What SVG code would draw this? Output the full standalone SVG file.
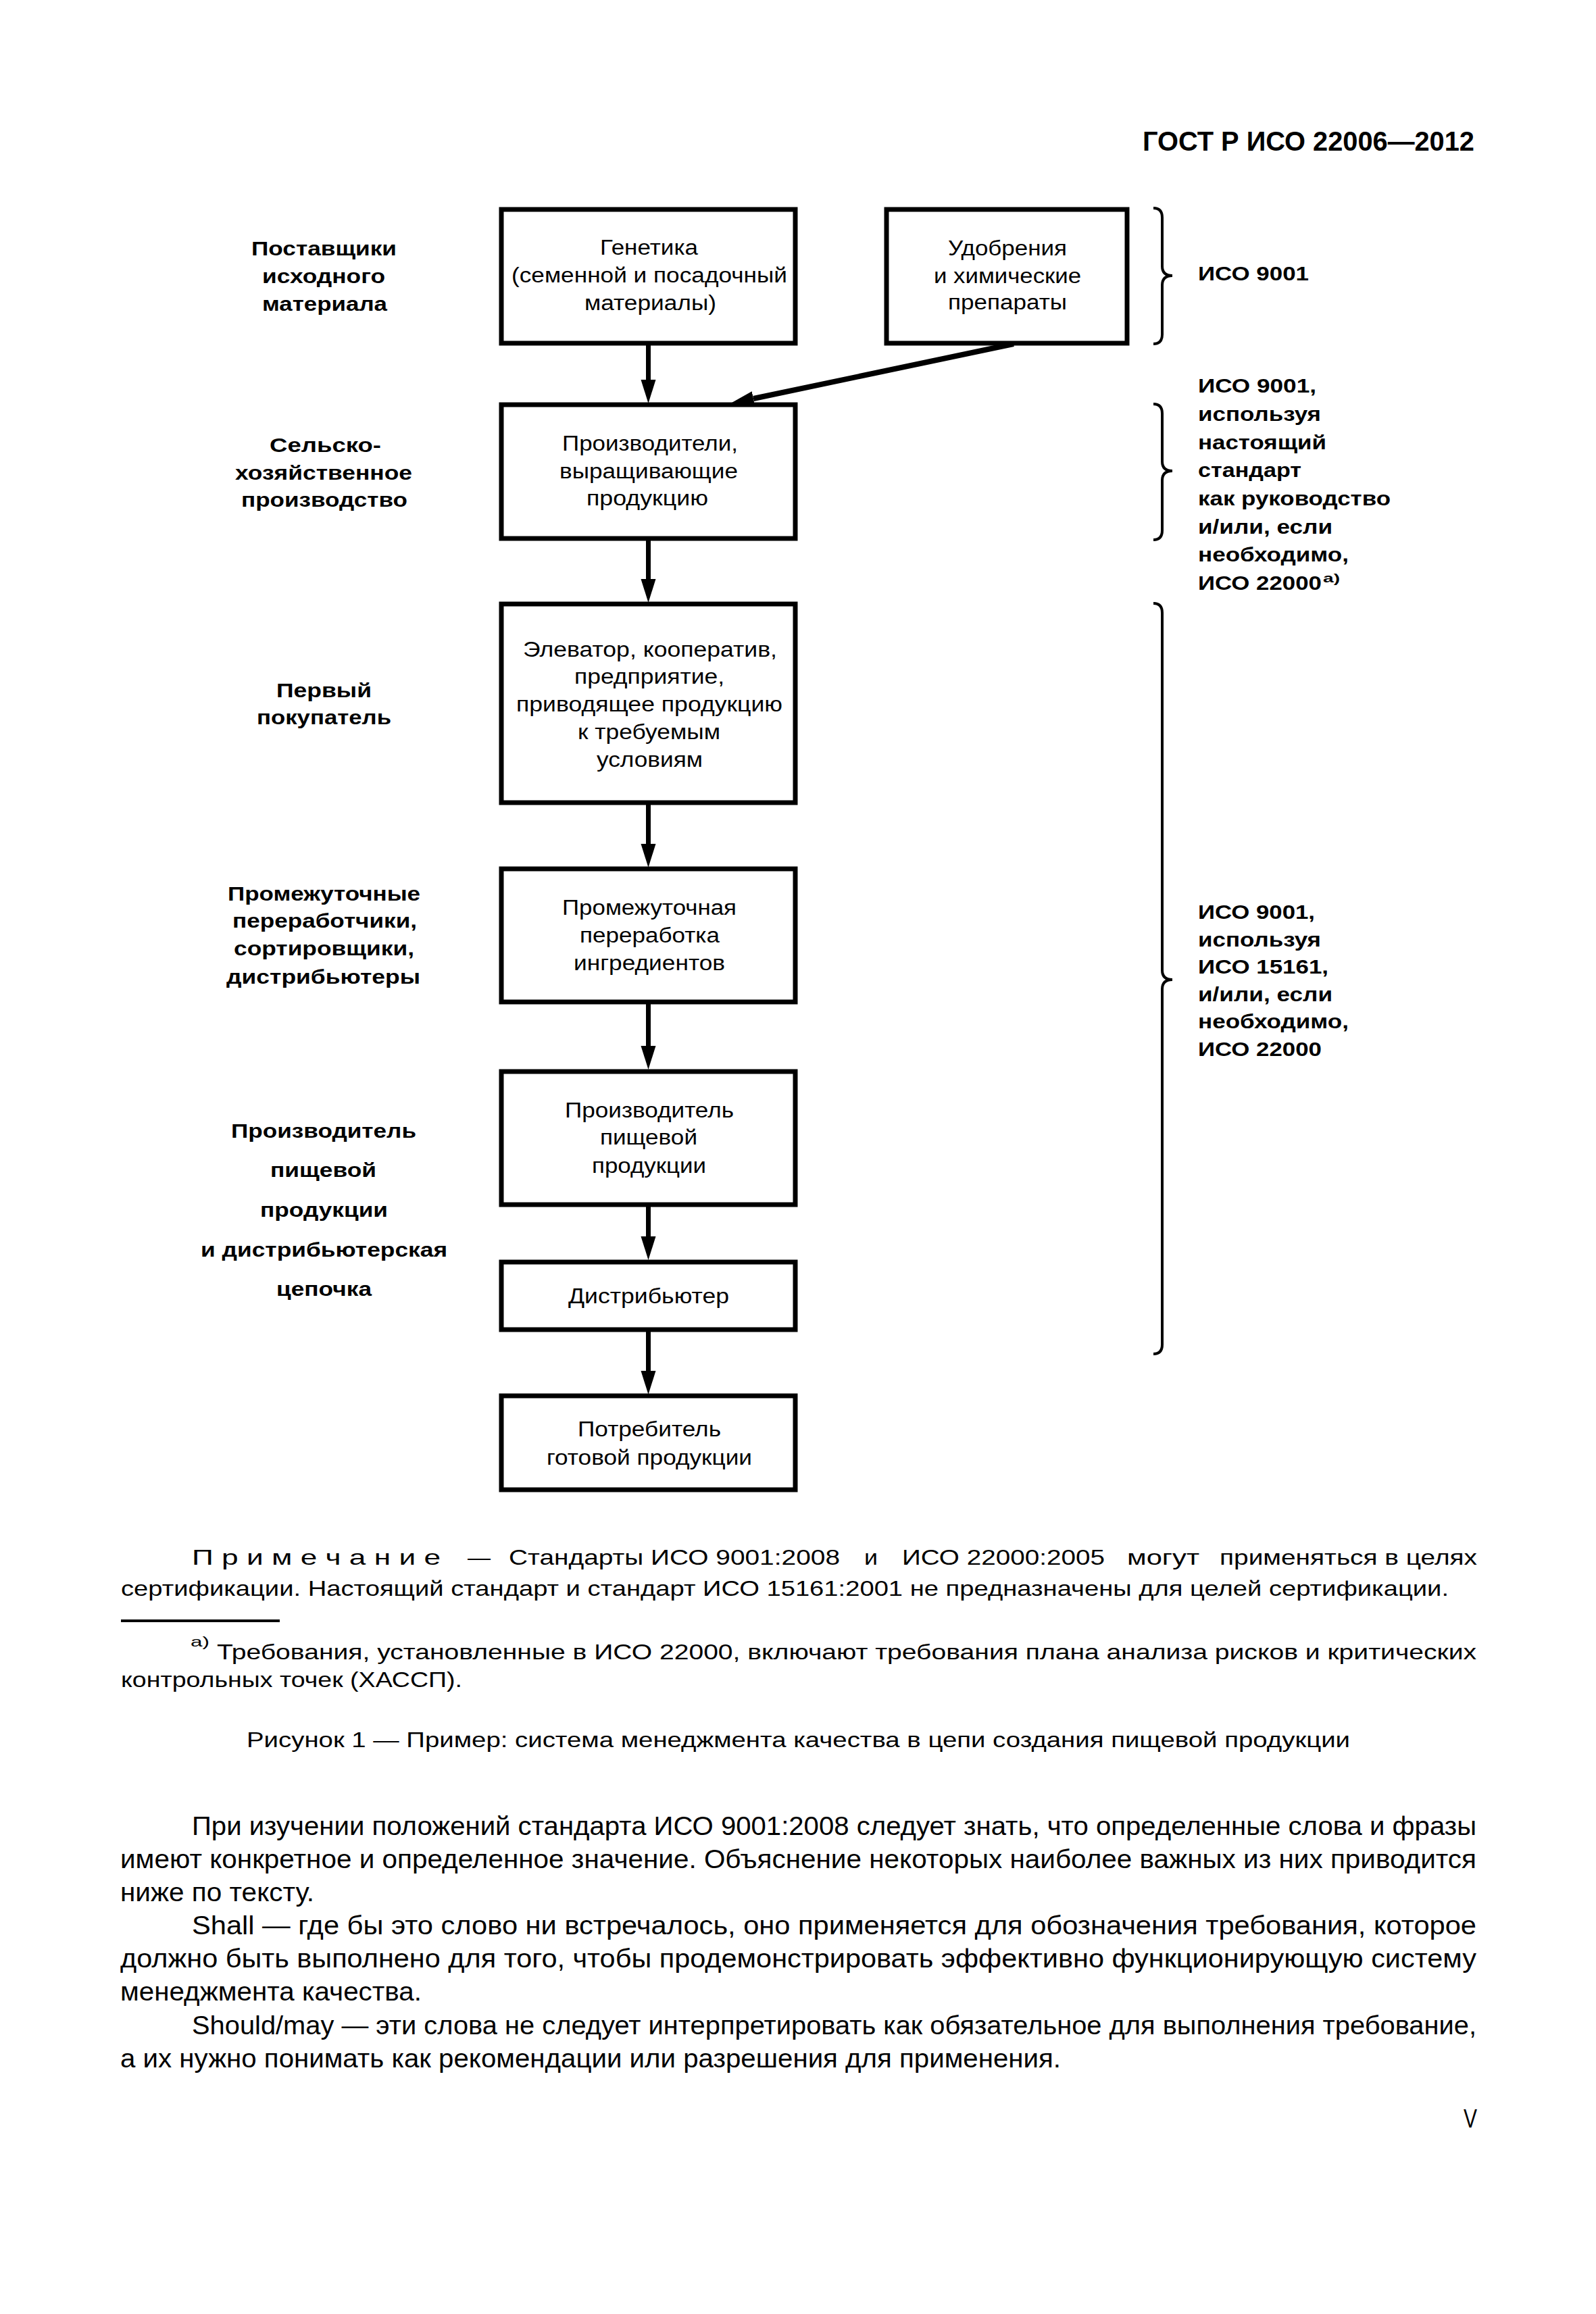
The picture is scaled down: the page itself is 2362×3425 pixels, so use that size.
<svg xmlns="http://www.w3.org/2000/svg" width="2362" height="3425" viewBox="0 0 2362 3425">
<style>
.box{fill:#fff;stroke:#000;stroke-width:7}
.bt{font-family:"Liberation Sans",Arial,sans-serif;font-size:31px;fill:#000}
.lb{font-family:"Liberation Sans",Arial,sans-serif;font-size:29px;font-weight:bold;fill:#000}
.sup{font-family:"Liberation Sans",Arial,sans-serif;font-size:19px;font-weight:bold;fill:#000}
.nt{font-family:"Liberation Sans",Arial,sans-serif;font-size:32px;fill:#000}
.ns{font-family:"Liberation Sans",Arial,sans-serif;font-size:21px;fill:#000}
.bd{font-family:"Liberation Sans",Arial,sans-serif;font-size:38px;fill:#000}
.hd{font-family:"Liberation Sans",Arial,sans-serif;font-size:41px;font-weight:bold;fill:#000}
.ar{fill:none;stroke:#000;stroke-width:7}
.br{fill:none;stroke:#000;stroke-width:4}
</style>
<defs>
<marker id="ah" markerUnits="userSpaceOnUse" markerWidth="36" markerHeight="24" refX="0" refY="11" orient="auto" viewBox="0 0 36 22">
<path d="M0,0 L35,11 L0,22 z" fill="#000"/>
</marker>
</defs>
<rect width="2362" height="3425" fill="#fff"/>

<text class="hd" x="1691" y="223" textLength="491" lengthAdjust="spacingAndGlyphs">ГОСТ Р ИСО 22006—2012</text>

<g id="connectors">
<line class="ar" x1="959.5" y1="511" x2="959.5" y2="562" marker-end="url(#ah)"/>
<line class="ar" x1="1500" y1="509" x2="1115" y2="590" style="stroke-width:8" marker-end="url(#ah)"/>
<line class="ar" x1="959.5" y1="800" x2="959.5" y2="857" marker-end="url(#ah)"/>
<line class="ar" x1="959.5" y1="1191" x2="959.5" y2="1249" marker-end="url(#ah)"/>
<line class="ar" x1="959.5" y1="1486" x2="959.5" y2="1548" marker-end="url(#ah)"/>
<line class="ar" x1="959.5" y1="1786" x2="959.5" y2="1830" marker-end="url(#ah)"/>
<line class="ar" x1="959.5" y1="1971" x2="959.5" y2="2029" marker-end="url(#ah)"/>
</g>

<g id="node-genetics">
<rect class="box" x="742" y="310" width="435" height="198"/>
<text class="bt" x="888" y="377" textLength="145" lengthAdjust="spacingAndGlyphs">Генетика</text>
<text class="bt" x="757" y="418" textLength="408" lengthAdjust="spacingAndGlyphs">(семенной и посадочный</text>
<text class="bt" x="865" y="459" textLength="195" lengthAdjust="spacingAndGlyphs">материалы)</text>
</g>
<g id="node-fertilizers">
<rect class="box" x="1312" y="310" width="356" height="198"/>
<text class="bt" x="1403" y="378" textLength="176" lengthAdjust="spacingAndGlyphs">Удобрения</text>
<text class="bt" x="1382" y="419" textLength="218" lengthAdjust="spacingAndGlyphs">и химические</text>
<text class="bt" x="1403" y="458" textLength="176" lengthAdjust="spacingAndGlyphs">препараты</text>
</g>
<g id="node-growers">
<rect class="box" x="742" y="599" width="435" height="198"/>
<text class="bt" x="832" y="667" textLength="260" lengthAdjust="spacingAndGlyphs">Производители,</text>
<text class="bt" x="828" y="708" textLength="264" lengthAdjust="spacingAndGlyphs">выращивающие</text>
<text class="bt" x="868" y="748" textLength="180" lengthAdjust="spacingAndGlyphs">продукцию</text>
</g>
<g id="node-elevator">
<rect class="box" x="742" y="894" width="435" height="294"/>
<text class="bt" x="774" y="972" textLength="376" lengthAdjust="spacingAndGlyphs">Элеватор, кооператив,</text>
<text class="bt" x="850" y="1012" textLength="222" lengthAdjust="spacingAndGlyphs">предприятие,</text>
<text class="bt" x="764" y="1053" textLength="394" lengthAdjust="spacingAndGlyphs">приводящее продукцию</text>
<text class="bt" x="855" y="1094" textLength="211" lengthAdjust="spacingAndGlyphs">к требуемым</text>
<text class="bt" x="883" y="1135" textLength="157" lengthAdjust="spacingAndGlyphs">условиям</text>
</g>
<g id="node-intermediate">
<rect class="box" x="742" y="1286" width="435" height="197"/>
<text class="bt" x="832" y="1354" textLength="258" lengthAdjust="spacingAndGlyphs">Промежуточная</text>
<text class="bt" x="858" y="1395" textLength="207" lengthAdjust="spacingAndGlyphs">переработка</text>
<text class="bt" x="849" y="1436" textLength="224" lengthAdjust="spacingAndGlyphs">ингредиентов</text>
</g>
<g id="node-food-producer">
<rect class="box" x="742" y="1586" width="435" height="197"/>
<text class="bt" x="836" y="1654" textLength="250" lengthAdjust="spacingAndGlyphs">Производитель</text>
<text class="bt" x="888" y="1694" textLength="144" lengthAdjust="spacingAndGlyphs">пищевой</text>
<text class="bt" x="876" y="1736" textLength="169" lengthAdjust="spacingAndGlyphs">продукции</text>
</g>
<g id="node-distributor">
<rect class="box" x="742" y="1868" width="435" height="100"/>
<text class="bt" x="841" y="1929" textLength="238" lengthAdjust="spacingAndGlyphs">Дистрибьютер</text>
</g>
<g id="node-consumer">
<rect class="box" x="742" y="2066" width="435" height="139"/>
<text class="bt" x="855" y="2126" textLength="212" lengthAdjust="spacingAndGlyphs">Потребитель</text>
<text class="bt" x="809" y="2168" textLength="304" lengthAdjust="spacingAndGlyphs">готовой продукции</text>
</g>

<g id="stage-labels">
<text class="lb" x="372" y="378" textLength="215" lengthAdjust="spacingAndGlyphs">Поставщики</text>
<text class="lb" x="388" y="419" textLength="182" lengthAdjust="spacingAndGlyphs">исходного</text>
<text class="lb" x="388" y="460" textLength="185" lengthAdjust="spacingAndGlyphs">материала</text>
<text class="lb" x="399" y="669" textLength="165" lengthAdjust="spacingAndGlyphs">Сельско-</text>
<text class="lb" x="348" y="710" textLength="262" lengthAdjust="spacingAndGlyphs">хозяйственное</text>
<text class="lb" x="357" y="750" textLength="246" lengthAdjust="spacingAndGlyphs">производство</text>
<text class="lb" x="409" y="1032" textLength="141" lengthAdjust="spacingAndGlyphs">Первый</text>
<text class="lb" x="380" y="1072" textLength="199" lengthAdjust="spacingAndGlyphs">покупатель</text>
<text class="lb" x="337" y="1333" textLength="285" lengthAdjust="spacingAndGlyphs">Промежуточные</text>
<text class="lb" x="344" y="1373" textLength="273" lengthAdjust="spacingAndGlyphs">переработчики,</text>
<text class="lb" x="346" y="1414" textLength="267" lengthAdjust="spacingAndGlyphs">сортировщики,</text>
<text class="lb" x="335" y="1456" textLength="287" lengthAdjust="spacingAndGlyphs">дистрибьютеры</text>
<text class="lb" x="342" y="1684" textLength="274" lengthAdjust="spacingAndGlyphs">Производитель</text>
<text class="lb" x="400" y="1742" textLength="157" lengthAdjust="spacingAndGlyphs">пищевой</text>
<text class="lb" x="385" y="1801" textLength="189" lengthAdjust="spacingAndGlyphs">продукции</text>
<text class="lb" x="297" y="1860" textLength="365" lengthAdjust="spacingAndGlyphs">и дистрибьютерская</text>
<text class="lb" x="409" y="1918" textLength="141" lengthAdjust="spacingAndGlyphs">цепочка</text>
</g>

<g id="braces">
<path class="br" d="M1707,308 Q1720,308 1720,322 L1720,394 Q1720,408 1735,408 Q1720,408 1720,422 L1720,495 Q1720,509 1707,509"/>
<path class="br" d="M1707,598 Q1720,598 1720,612 L1720,683 Q1720,697 1735,697 Q1720,697 1720,711 L1720,785 Q1720,799 1707,799"/>
<path class="br" d="M1707,893 Q1720,893 1720,907 L1720,1436 Q1720,1450 1735,1450 Q1720,1450 1720,1464 L1720,1990 Q1720,2004 1707,2004"/>
</g>

<g id="standards-1">
<text class="lb" x="1773" y="415" textLength="164" lengthAdjust="spacingAndGlyphs">ИСО 9001</text>
</g>
<g id="standards-2">
<text class="lb" x="1773" y="581" textLength="175" lengthAdjust="spacingAndGlyphs">ИСО 9001,</text>
<text class="lb" x="1773" y="623" textLength="182" lengthAdjust="spacingAndGlyphs">используя</text>
<text class="lb" x="1773" y="665" textLength="190" lengthAdjust="spacingAndGlyphs">настоящий</text>
<text class="lb" x="1773" y="706" textLength="153" lengthAdjust="spacingAndGlyphs">стандарт</text>
<text class="lb" x="1773" y="748" textLength="285" lengthAdjust="spacingAndGlyphs">как руководство</text>
<text class="lb" x="1773" y="790" textLength="199" lengthAdjust="spacingAndGlyphs">и/или, если</text>
<text class="lb" x="1773" y="831" textLength="223" lengthAdjust="spacingAndGlyphs">необходимо,</text>
<text class="lb" x="1773" y="873" textLength="183" lengthAdjust="spacingAndGlyphs">ИСО 22000</text>
<text class="sup" x="1958" y="862" textLength="25" lengthAdjust="spacingAndGlyphs">а)</text>
</g>
<g id="standards-3">
<text class="lb" x="1773" y="1360" textLength="173" lengthAdjust="spacingAndGlyphs">ИСО 9001,</text>
<text class="lb" x="1773" y="1401" textLength="182" lengthAdjust="spacingAndGlyphs">используя</text>
<text class="lb" x="1773" y="1441" textLength="193" lengthAdjust="spacingAndGlyphs">ИСО 15161,</text>
<text class="lb" x="1773" y="1482" textLength="199" lengthAdjust="spacingAndGlyphs">и/или, если</text>
<text class="lb" x="1773" y="1522" textLength="223" lengthAdjust="spacingAndGlyphs">необходимо,</text>
<text class="lb" x="1773" y="1563" textLength="183" lengthAdjust="spacingAndGlyphs">ИСО 22000</text>
</g>

<g id="note">
<text class="nt" x="284" y="2316" textLength="368" lengthAdjust="spacingAndGlyphs">П р и м е ч а н и е</text>
<text class="nt" x="692" y="2316" textLength="34" lengthAdjust="spacingAndGlyphs">—</text>
<text class="nt" x="753" y="2316" textLength="490" lengthAdjust="spacingAndGlyphs">Стандарты ИСО 9001:2008</text>
<text class="nt" x="1279" y="2316" textLength="20" lengthAdjust="spacingAndGlyphs">и</text>
<text class="nt" x="1335" y="2316" textLength="300" lengthAdjust="spacingAndGlyphs">ИСО 22000:2005</text>
<text class="nt" x="1668" y="2316" textLength="107" lengthAdjust="spacingAndGlyphs">могут</text>
<text class="nt" x="1805" y="2316" textLength="381" lengthAdjust="spacingAndGlyphs">применяться в целях</text>
<text class="nt" x="179" y="2362" textLength="1965" lengthAdjust="spacingAndGlyphs">сертификации. Настоящий стандарт и стандарт ИСО 15161:2001 не предназначены для целей сертификации.</text>
<line x1="179" y1="2399" x2="414" y2="2399" stroke="#000" stroke-width="4"/>
<text class="ns" x="282" y="2437" textLength="28" lengthAdjust="spacingAndGlyphs">а)</text>
<text class="nt" x="321" y="2456" textLength="1864" lengthAdjust="spacingAndGlyphs">Требования, установленные в ИСО 22000, включают требования плана анализа рисков и критических</text>
<text class="nt" x="179" y="2497" textLength="505" lengthAdjust="spacingAndGlyphs">контрольных точек (ХАССП).</text>
<text class="nt" x="365" y="2586" textLength="1633" lengthAdjust="spacingAndGlyphs">Рисунок 1 — Пример: система менеджмента качества в цепи создания пищевой продукции</text>
</g>

<g id="body">
<text class="bd" x="284" y="2716" textLength="1901" lengthAdjust="spacingAndGlyphs">При изучении положений стандарта ИСО 9001:2008 следует знать, что определенные слова и фразы</text>
<text class="bd" x="178" y="2765" textLength="2007" lengthAdjust="spacingAndGlyphs">имеют конкретное и определенное значение. Объяснение некоторых наиболее важных из них приводится</text>
<text class="bd" x="178" y="2814" textLength="287" lengthAdjust="spacingAndGlyphs">ниже по тексту.</text>
<text class="bd" x="284" y="2863" textLength="1901" lengthAdjust="spacingAndGlyphs">Shall — где бы это слово ни встречалось, оно применяется для обозначения требования, которое</text>
<text class="bd" x="178" y="2912" textLength="2007" lengthAdjust="spacingAndGlyphs">должно быть выполнено для того, чтобы продемонстрировать эффективно функционирующую систему</text>
<text class="bd" x="178" y="2961" textLength="446" lengthAdjust="spacingAndGlyphs">менеджмента качества.</text>
<text class="bd" x="284" y="3011" textLength="1901" lengthAdjust="spacingAndGlyphs">Should/may — эти слова не следует интерпретировать как обязательное для выполнения требование,</text>
<text class="bd" x="178" y="3060" textLength="1392" lengthAdjust="spacingAndGlyphs">а их нужно понимать как рекомендации или разрешения для применения.</text>
<text class="bd" x="2166" y="3149" textLength="20" lengthAdjust="spacingAndGlyphs">V</text>
</g>
</svg>
